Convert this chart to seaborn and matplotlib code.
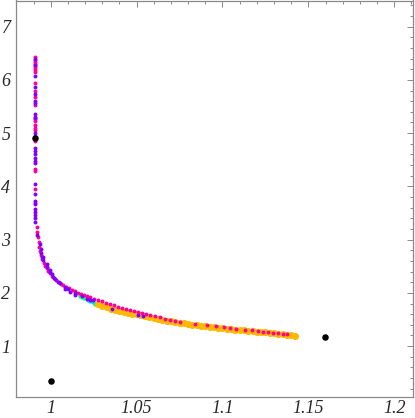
import matplotlib
matplotlib.use("Agg")
import matplotlib.pyplot as plt
import seaborn as sns
import numpy as np
import pandas as pd
from matplotlib.ticker import FixedLocator, FixedFormatter, MultipleLocator

# ========================================
# Data
# ========================================
# vertical branch, all at x ~ 0.9909
branch_x = 0.9909
branch_magenta_y = [6.42, 6.38, 6.34, 6.30, 6.26, 6.22, 6.18, 6.14, 5.95, 5.80, 5.67,
                    5.52, 5.27, 5.22, 5.16, 5.10, 5.05, 4.86, 4.33, 4.29, 3.95, 3.69]
branch_purple_y = [6.40, 6.28, 6.08, 5.87, 5.74, 5.60, 5.56, 5.35, 5.31, 5.29, 5.00,
                   4.95, 4.72, 4.66, 4.60, 4.54, 4.48, 4.44, 4.05, 3.86, 3.73, 3.67,
                   3.58, 3.52, 3.46, 3.40, 3.34]

# magenta points along the bend
magenta_x = [0.99185, 0.99220, 0.99261, 0.99290, 0.99336, 0.99377, 0.99435, 0.99493,
             0.99581, 0.99668, 0.99756, 0.99843, 0.99959, 1.00076, 1.00192, 1.00308,
             1.00454, 1.00600, 1.00745, 1.00891, 1.01065, 1.01240, 1.01415, 1.01589,
             1.01764, 1.01938, 1.02113, 1.02287, 1.02520, 1.02753, 1.02986, 1.03219,
             1.03452, 1.03684, 1.03917, 1.04150, 1.04383, 1.04616, 1.04849, 1.05081,
             1.05314, 1.05547, 1.05780, 1.06071, 1.06362, 1.06653, 1.06944, 1.07235,
             1.07526,
             1.0840, 1.0908, 1.0960, 1.1009, 1.1044, 1.1077, 1.1131, 1.1170, 1.1208,
             1.1237, 1.1267, 1.1296, 1.1325, 1.1354, 1.1374]
magenta_y = [3.232, 3.139, 3.045, 2.951, 2.858, 2.783, 2.708, 2.633, 2.567, 2.511,
             2.464, 2.417, 2.370, 2.323, 2.286, 2.248, 2.211, 2.173, 2.145, 2.117,
             2.089, 2.061, 2.033, 2.005, 1.980, 1.958, 1.935, 1.915, 1.890, 1.864,
             1.840, 1.815, 1.789, 1.767, 1.744, 1.722, 1.699, 1.677, 1.658, 1.639,
             1.620, 1.602, 1.583, 1.560, 1.538, 1.515, 1.493, 1.470, 1.452,
             1.420, 1.402, 1.376, 1.352, 1.340, 1.329, 1.311, 1.298, 1.285,
             1.273, 1.266, 1.255, 1.247, 1.236, 1.228]

# purple points along the bend
purple_x = [0.9922, 0.9938, 0.9944, 0.9944, 0.9949, 0.9957, 0.9957, 0.9977, 0.9977,
            0.9996, 0.9996, 1.0006, 1.0015, 1.0025, 1.0044, 1.0054, 1.0083, 1.0083,
            1.0102, 1.0112, 1.0141, 1.0141, 1.0180, 1.0210, 1.0229, 1.0248, 1.0355,
            1.0510, 1.0539]
purple_y = [3.08, 2.914, 2.82, 2.745, 2.67, 2.614, 2.68, 2.488, 2.55,
            2.395, 2.43, 2.36, 2.301, 2.27, 2.207, 2.18, 2.113, 2.08,
            2.064, 2.02, 2.001, 1.958, 1.939, 1.883, 1.864, 1.864, 1.69,
            1.583, 1.564]

# green / cyan points
green_x = [1.0168, 1.0180, 1.0195, 1.0258, 1.0300, 1.0403, 1.0520, 1.0704]
green_y = [1.935, 1.915, 1.895, 1.800, 1.750, 1.640, 1.575, 1.472]
cyan_x = [1.0215, 1.0230, 1.0245]
cyan_y = [1.870, 1.845, 1.820]

# orange band
orange_x = [1.0275, 1.0300, 1.0325, 1.0350, 1.0375, 1.0400, 1.0425, 1.0450, 1.0475,
            1.0500, 1.0525, 1.0550, 1.0575, 1.0600, 1.0625, 1.0650, 1.0675, 1.0700,
            1.0725, 1.0750, 1.0775, 1.0800, 1.0825, 1.0850, 1.0875, 1.0900, 1.0925,
            1.0950, 1.0975, 1.1000, 1.1025, 1.1050, 1.1075, 1.1100, 1.1125, 1.1150,
            1.1175, 1.1200, 1.1225, 1.1250, 1.1275, 1.1300, 1.1325, 1.1350, 1.1375,
            1.1400, 1.1425]
orange_y = [1.790, 1.760, 1.730, 1.705, 1.685, 1.665, 1.645, 1.630, 1.612,
            1.598, 1.580, 1.562, 1.542, 1.525, 1.510, 1.492, 1.478, 1.464,
            1.450, 1.438, 1.428, 1.418, 1.406, 1.395, 1.383, 1.373, 1.363,
            1.352, 1.343, 1.333, 1.322, 1.313, 1.308, 1.304, 1.298, 1.290,
            1.282, 1.272, 1.264, 1.257, 1.250, 1.242, 1.234, 1.226, 1.218,
            1.210, 1.198]

# black reference points
black_x = [0.9909, 1.0, 1.1597]
black_y = [4.90, 0.35, 1.176]

x_ticks = [1.0, 1.05, 1.1, 1.15, 1.2]
x_tick_labels = ["1", "1.05", "1.1", "1.15", "1.2"]
y_ticks = [1, 2, 3, 4, 5, 6, 7]
y_tick_labels = ["1", "2", "3", "4", "5", "6", "7"]

# ========================================
# Plot
# ========================================
sns.set_style("white")
plt.rcParams["font.family"] = ["Liberation Serif", "DejaVu Serif"]
plt.rcParams["font.style"] = "italic"
plt.rcParams["font.size"] = 13

magenta = (1.0, 0.0, 0.6)
purple = (0.5, 0.0, 1.0)
green = (0.0, 1.0, 0.45)
cyan = (0.0, 0.88, 0.85)
orange = (1.0, 0.72, 0.0)

fig = plt.figure(figsize=(4.15, 4.18), dpi=100)
ax = fig.add_axes([16 / 415, 21 / 418, 397 / 415, 396.5 / 418])

kw = dict(ax=ax, linewidth=0, legend=False)
sns.scatterplot(x=green_x, y=green_y, color=green, s=10, **kw)
sns.scatterplot(x=cyan_x, y=cyan_y, color=cyan, s=10, **kw)
sns.scatterplot(x=orange_x, y=orange_y, color=orange, s=26, **kw)
sns.scatterplot(x=[branch_x] * len(branch_magenta_y), y=branch_magenta_y, color=magenta, s=8, **kw)
sns.scatterplot(x=magenta_x, y=magenta_y, color=magenta, s=8, **kw)
sns.scatterplot(x=[branch_x] * len(branch_purple_y), y=branch_purple_y, color=purple, s=8, **kw)
sns.scatterplot(x=purple_x, y=purple_y, color=purple, s=8, **kw)
sns.scatterplot(x=black_x, y=black_y, color="black", s=22, **kw)

ax.set_xlim(0.9798, 1.2109)
ax.set_ylim(0.045, 7.49)

ax.xaxis.set_major_locator(FixedLocator(x_ticks))
ax.xaxis.set_major_formatter(FixedFormatter(x_tick_labels))
ax.xaxis.set_minor_locator(MultipleLocator(0.01))
ax.yaxis.set_major_locator(FixedLocator(y_ticks))
ax.yaxis.set_major_formatter(FixedFormatter(y_tick_labels))
ax.yaxis.set_minor_locator(MultipleLocator(0.2))

frame_gray = "#8a8a8a"
for sp in ax.spines.values():
    sp.set_color(frame_gray)
    sp.set_linewidth(0.9)

ax.tick_params(which="both", direction="in", top=True, right=True, color=frame_gray,
               width=0.7, labelsize=13)
ax.tick_params(which="major", length=4.5)
ax.tick_params(which="minor", length=2.2)
ax.tick_params(axis="x", which="major", pad=2)
ax.tick_params(axis="y", which="major", pad=4)

fig.savefig("out.png", dpi=100)
